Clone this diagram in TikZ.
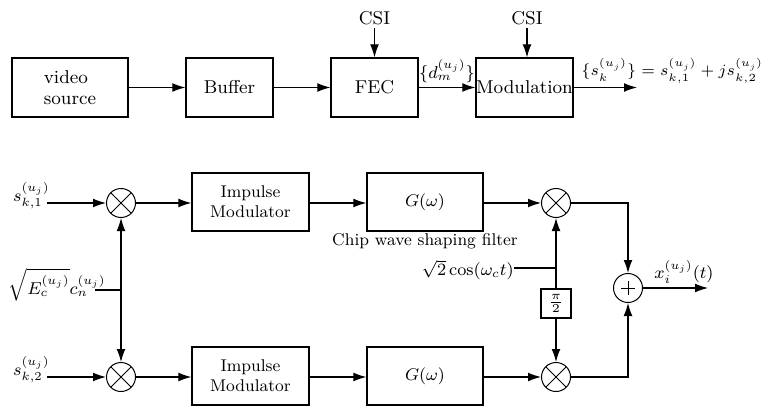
\documentclass[tikz,border=0pt]{standalone}
\usepackage{amsmath}
\usepackage{fix-cm}
\usetikzlibrary{arrows.meta,calc}
\tikzset{
  blk/.style={draw, line width=0.6pt, inner sep=0pt, align=center},
  conn/.style={line width=0.55pt},
  arr/.style={conn, -{Latex[length=6.5pt,width=4.4pt]}},
  mult/.style={circle, draw, line width=0.5pt, minimum size=14.5pt, inner sep=0pt,
    path picture={\draw[line width=0.5pt] (path picture bounding box.north west) -- (path picture bounding box.south east)
      (path picture bounding box.north east) -- (path picture bounding box.south west);}},
  addr/.style={circle, draw, line width=0.5pt, minimum size=14.5pt, inner sep=0pt},
  lbl/.style={inner sep=0pt},
  small/.style={font=\fontsize{8.5}{10}\selectfont},
  mlbl/.style={inner sep=0pt, font=\fontsize{8.6}{10}\selectfont}
}
\begin{document}
\begin{tikzpicture}[x=0.5pt, y=-0.5pt, font=\fontsize{9.3}{10.7}\selectfont]
\useasboundingbox (0,0) rectangle (763,406);
% top row
\node[blk, minimum width=58pt, minimum height=29.5pt, align=left] (vs) at (70,87.5) {video\\source};
\node[blk, minimum width=43.5pt, minimum height=29.5pt] (buf) at (229.5,87.5) {Buffer};
\node[blk, minimum width=43.5pt, minimum height=29.5pt] (fec) at (374.5,87.5) {FEC};
\node[blk, minimum width=48.5pt, minimum height=29.5pt] (mod) at (524.5,87.5) {Modulation};
\node[lbl] (csi1) at (374.5,18) {CSI};
\node[lbl] (csi2) at (527,18) {CSI};
\coordinate (out) at (637,87.5);
\draw[arr] (vs) -- (buf);
\draw[arr] (buf) -- (fec);
\draw[arr] (fec) -- (mod);
\draw[arr] (mod) -- (out);
\draw[arr] ($(csi1.south)+(0,3)$) -- (csi1.south |- fec.north);
\draw[arr] ($(csi2.south)+(0,3)$) -- (csi2.south |- mod.north);
\node[mlbl] (dl) at (447,71) {$\{d_m^{(u_j)}\}$};
\node[mlbl, anchor=west, font=\fontsize{7.8}{9.5}\selectfont] (sl) at (581,71) {$\{s_k^{(u_j)}\} = s_{k,1}^{(u_j)} + j s_{k,2}^{(u_j)}$};
% bottom
\node[mult] (m1) at (121,203) {};
\node[mult] (m2) at (121,377) {};
\node[mult] (m3) at (556,203) {};
\node[mult] (m4) at (556,377) {};
\node[addr] (pl) at (628,288) {};
\draw[conn, line width=0.5pt] ($(pl.center)+(-7,0)$) -- ($(pl.center)+(7,0)$) ($(pl.center)+(0,-7)$) -- ($(pl.center)+(0,7)$);
\node[blk, small, minimum width=58.5pt, minimum height=29pt] (im1) at (250.5,202) {Impulse\\Modulator};
\node[blk, small, minimum width=58.5pt, minimum height=29pt] (im2) at (250.5,376) {Impulse\\Modulator};
\node[blk, small, minimum width=58pt, minimum height=29pt] (g1) at (425,202) {$G(\omega)$};
\node[blk, small, minimum width=58pt, minimum height=29pt] (g2) at (425,376) {$G(\omega)$};
\node[lbl, small] (chip) at (425,241.5) {Chip wave shaping filter};
\node[blk, small, minimum width=15pt, minimum height=14.5pt, line width=0.55pt] (ph) at (556,303.5) {$\frac{\pi}{2}$};
% inputs
\node[mlbl, anchor=east] (s1) at (50,196) {$s_{k,1}^{(u_j)}$};
\node[mlbl, anchor=east] (s2) at (50,370) {$s_{k,2}^{(u_j)}$};
\coordinate (s1e) at (47,203);
\coordinate (s2e) at (47,377);
\draw[arr] (s1e) -- (m1);
\draw[arr] (s2e) -- (m2);
\node[mlbl, anchor=east] (ec) at (106,285) {$\sqrt{E_c^{(u_j)}}c_n^{(u_j)}$};
\coordinate (ecs) at (95,290);
\coordinate (ecj) at (121,290);
\draw[conn] (ecs) -- (ecj);
\draw[arr] (ecj) -- (m1);
\draw[arr] (ecj) -- (m2);
\draw[arr] (m1) -- (im1.west |- m1);
\draw[arr] (m2) -- (im2.west |- m2);
\draw[arr] (im1.east |- m1) -- (g1.west |- m1);
\draw[arr] (im2.east |- m2) -- (g2.west |- m2);
\draw[arr] (g1.east |- m3) -- (m3);
\draw[arr] (g2.east |- m4) -- (m4);
% carrier
\node[mlbl, anchor=east] (cs) at (514,270) {$\sqrt{2}\cos(\omega_c t)$};
\coordinate (csj) at (556,268);
\draw[conn] (cs.east |- csj) -- (csj);
\draw[arr] (csj) -- (m3);
\draw[conn] (csj) -- (ph);
\draw[arr] (ph) -- (m4);
% sum
\draw[arr] (m3) -| (pl);
\draw[arr] (m4) -| (pl);
\coordinate (xo) at (708,288);
\draw[arr] (pl) -- (xo);
\node[mlbl] (xl) at (684,272) {$x_i^{(u_j)}(t)$};
\end{tikzpicture}
\end{document}
